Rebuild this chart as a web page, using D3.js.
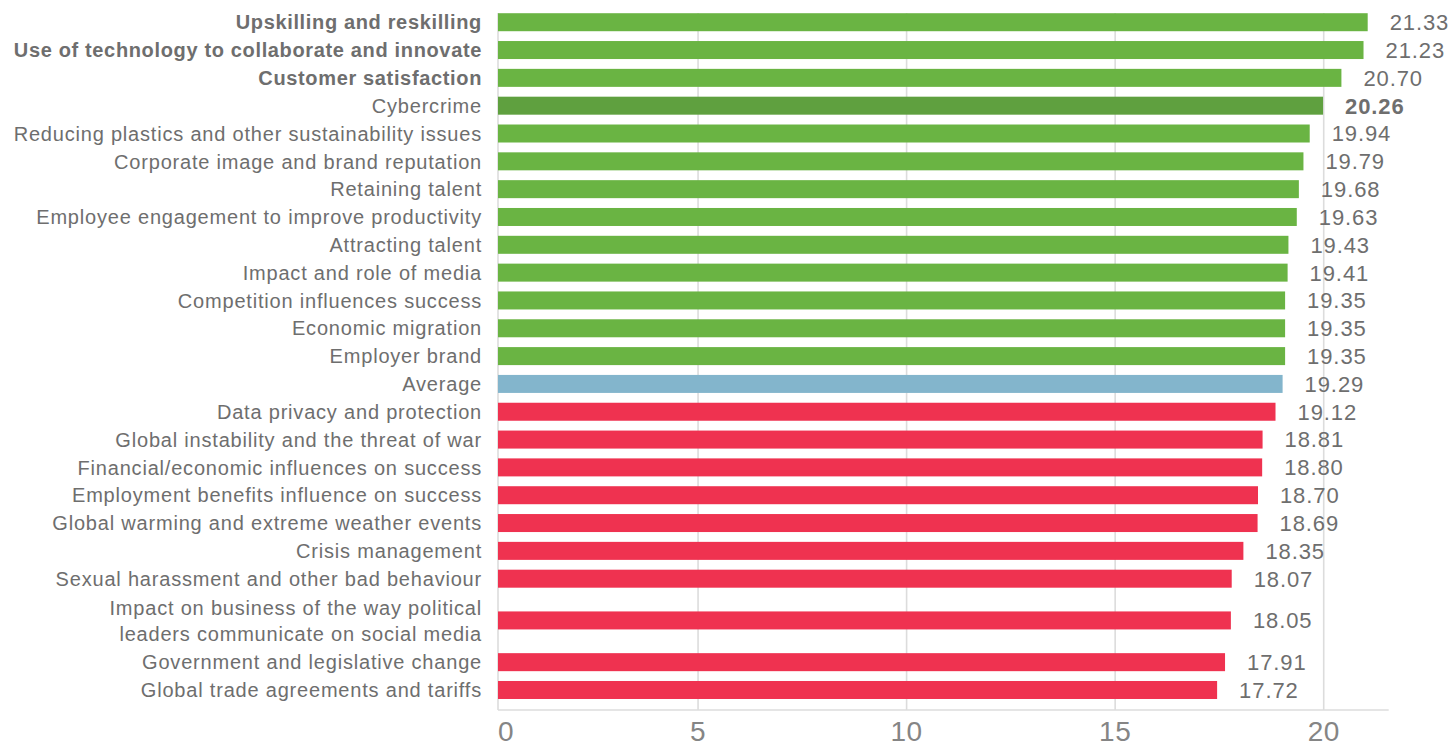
<!DOCTYPE html>
<html>
<head>
<meta charset="utf-8">
<script src="https://cdn.jsdelivr.net/npm/d3@7/dist/d3.min.js"></script>
<style>
  html, body { margin: 0; padding: 0; background: #ffffff; }
  svg { display: block; font-family: "Helvetica Neue", Helvetica, Arial, "Liberation Sans", sans-serif; }
</style>
</head>
<body>
<svg id="chart" width="1450" height="747"></svg>
<script>
// Issues ranked by average score
const categories = [
  "Upskilling and reskilling",
  "Use of technology to collaborate and innovate",
  "Customer satisfaction",
  "Cybercrime",
  "Reducing plastics and other sustainability issues",
  "Corporate image and brand reputation",
  "Retaining talent",
  "Employee engagement to improve productivity",
  "Attracting talent",
  "Impact and role of media",
  "Competition influences success",
  "Economic migration",
  "Employer brand",
  "Average",
  "Data privacy and protection",
  "Global instability and the threat of war",
  "Financial/economic influences on success",
  "Employment benefits influence on success",
  "Global warming and extreme weather events",
  "Crisis management",
  "Sexual harassment and other bad behaviour",
  "Impact on business of the way political leaders communicate on social media",
  "Government and legislative change",
  "Global trade agreements and tariffs"
];
const values = [21.33, 21.23, 20.70, 20.26, 19.94, 19.79, 19.68, 19.63, 19.43, 19.41,
  19.35, 19.35, 19.35, 19.29, 19.12, 18.81, 18.80, 18.70, 18.69, 18.35, 18.07, 18.05, 17.91, 17.72];
// Group of each row: above average, highlighted, average, below average
const groups = ["above", "above", "above", "highlight", "above", "above", "above", "above", "above", "above",
  "above", "above", "above", "average", "below", "below", "below", "below", "below", "below", "below", "below", "below", "below"];
// Category labels split onto lines
const labelLines = categories.map(c =>
  c === "Impact on business of the way political leaders communicate on social media"
    ? ["Impact on business of the way political", "leaders communicate on social media"]
    : [c]);
const boldLabels = ["Upskilling and reskilling", "Use of technology to collaborate and innovate", "Customer satisfaction"];
const boldValues = ["Cybercrime"];
const tickValues = [0, 5, 10, 15, 20];

const colors = { above: "#6ab443", highlight: "#5fa03f", average: "#83b5cc", below: "#ef3250" };
const textColor = "#6e6e6e";
const tickColor = "#858585";

const svg = d3.select("#chart");

// Rows take one slot per label line
const slots = labelLines.map(l => l.length);
const starts = [];
slots.reduce((acc, s, i) => { starts[i] = acc; return acc + s; }, 0);
const totalSlots = d3.sum(slots);

const y = d3.scaleLinear().domain([0, totalSlots]).range([8.3, 703.9]);
const x = d3.scaleLinear().domain([0, 21.57]).range([489, 1388.7]);

const plotLeft = 498, plotRight = 1388.7;
const gridTop = 13, axisY = 710;
const barH = 18;
const barShift = -11;

// Gridlines and axis
const axis = d3.axisBottom(x).tickValues(tickValues.filter(v => v > 0))
  .tickSize(-(axisY - gridTop)).tickFormat(d3.format("d")).tickPadding(11);
const gAxis = svg.append("g").attr("transform", `translate(0,${axisY})`).call(axis);
gAxis.select(".domain").remove();
gAxis.selectAll(".tick line").attr("stroke", "#dcdcdc").attr("stroke-width", 1.6);
gAxis.selectAll(".tick text").attr("fill", tickColor).attr("font-size", 28)
  .attr("letter-spacing", 0.5)
  .attr("font-family", "\"Helvetica Neue\", Helvetica, Arial, \"Liberation Sans\", sans-serif");

svg.append("line").attr("x1", plotLeft).attr("x2", plotLeft).attr("y1", gridTop).attr("y2", axisY)
  .attr("stroke", "#dcdcdc").attr("stroke-width", 1.6);
svg.append("line").attr("x1", plotLeft).attr("x2", plotRight).attr("y1", axisY).attr("y2", axisY)
  .attr("stroke", "#dcdcdc").attr("stroke-width", 1.6);
svg.append("text").attr("x", plotLeft).attr("y", axisY + 11).attr("dy", "0.71em")
  .attr("fill", tickColor).attr("font-size", 28).text(tickValues[0]);

const rows = categories.map((c, i) => ({
  name: c, value: values[i], group: groups[i], lines: labelLines[i],
  cy: y(starts[i] + slots[i] / 2)
}));

// Bars
svg.append("g").selectAll("rect").data(rows).join("rect")
  .attr("x", plotLeft)
  .attr("y", d => d.cy - barH / 2)
  .attr("width", d => x(d.value) + barShift - plotLeft)
  .attr("height", barH)
  .attr("fill", d => colors[d.group]);

// Value labels
svg.append("g").selectAll("text").data(rows).join("text")
  .attr("x", d => x(d.value) + barShift + 22)
  .attr("y", d => d.cy)
  .attr("dy", "0.36em")
  .attr("fill", textColor)
  .attr("font-size", 22)
  .attr("letter-spacing", 0.9)
  .attr("font-weight", d => boldValues.includes(d.name) ? "bold" : "normal")
  .text(d => d3.format(".2f")(d.value));

// Category labels
const lineGap = 26;
const labels = svg.append("g").selectAll("text").data(rows).join("text")
  .attr("x", 482)
  .attr("text-anchor", "end")
  .attr("fill", textColor)
  .attr("font-size", 20)
  .attr("letter-spacing", d => boldLabels.includes(d.name) ? 0.65 : 0.8)
  .attr("font-weight", d => boldLabels.includes(d.name) ? "bold" : "normal");
labels.each(function(d) {
  const n = d.lines.length;
  d3.select(this).selectAll("tspan").data(d.lines).join("tspan")
    .attr("x", 482)
    .attr("y", (l, j) => d.cy + (j - (n - 1) / 2) * lineGap)
    .attr("dy", "0.36em")
    .text(l => l);
});
</script>
</body>
</html>
